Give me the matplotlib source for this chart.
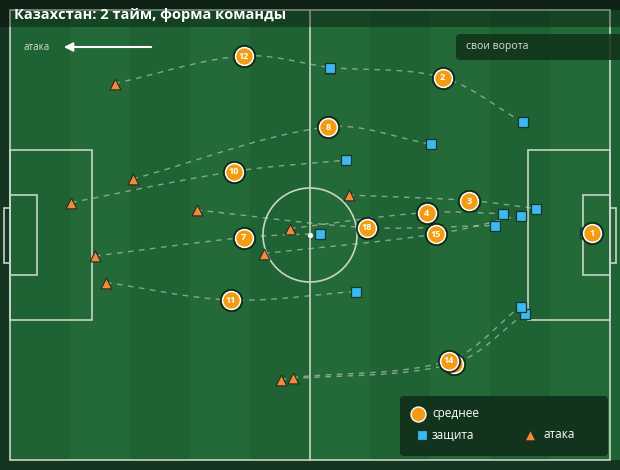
import numpy as np
import matplotlib.pyplot as plt
from matplotlib.patches import Rectangle, Circle, FancyBboxPatch

plt.rcParams['font.family'] = ['Open Sans', 'Noto Sans', 'DejaVu Sans']

# ---------- данные (поле 120 x 90, ось Y вниз) ----------
players = ['12', '2', '8', '10', '3', '4', '18', '15', '7', '11', '', '14', '1']
avg_x = [46.7, 86.5, 63.6, 44.7, 91.8, 83.3, 71.3, 85.2, 46.7, 44.2, 88.7, 87.8, 116.4]
avg_y = [9.2, 13.5, 23.4, 32.3, 38.1, 40.5, 43.5, 44.8, 45.5, 58.0, 70.7, 70.1, 44.6]
def_x = [64.0, 102.5, 84.1, 67.2, 105.1, 98.5, 97.0, 102.2, 62.0, 69.2, 102.9, 102.1, 115.0]
def_y = [11.5, 22.4, 26.8, 30.0, 39.7, 40.7, 43.1, 41.1, 44.7, 56.3, 60.8, 59.3, 44.5]
att_x = [20.9, 64.0, 24.5, 12.2, 67.7, 56.0, 37.3, 50.8, 17.0, 19.2, 54.2, 56.5, 115.3]
att_y = [14.7, 11.5, 33.8, 38.5, 37.0, 43.7, 40.0, 48.7, 49.2, 54.5, 73.9, 73.5, 44.6]

ORANGE = '#f39c12'
BLUE = '#3cb8f2'
TRI = '#f08a3c'
LINE = '#c9d3c9'


def px(x):
    return (x - 10) / 5.0


def hermite(p0, p1, m0, m1, n=40):
    s = np.linspace(0, 1, n)[:, None]
    h00 = 2 * s**3 - 3 * s**2 + 1
    h10 = s**3 - 2 * s**2 + s
    h01 = -2 * s**3 + 3 * s**2
    h11 = s**3 - s**2
    return h00 * p0 + h10 * m0 + h01 * p1 + h11 * m1


# ---------- фигура ----------
fig = plt.figure(figsize=(6.2, 4.7), dpi=100)
fig.patch.set_facecolor('#143520')
ax = fig.add_axes([0, 0, 1, 1])
ax.set_xlim(-2, 122)
ax.set_ylim(92, -2)
ax.axis('off')

# полосы газона
for i in range(11):
    c = '#1f6234' if i % 2 == 0 else '#236a38'
    ax.add_patch(Rectangle((i * 12, 0), 12, 90, color=c, lw=0, zorder=0))

# разметка
lw = 1.2
ax.add_patch(Rectangle((0, 0), 120, 90, fill=False, ec=LINE, lw=lw, zorder=1))
ax.plot([60, 60], [0, 90], color=LINE, lw=lw, zorder=1)
ax.add_patch(Circle((60, 45), 9.4, fill=False, ec=LINE, lw=lw, zorder=1))
ax.scatter([60], [45], s=14, c='white', lw=0, zorder=1.2)
for side in (0, 1):
    x0 = 0 if side == 0 else 120
    s = 1 if side == 0 else -1
    ax.add_patch(Rectangle((x0, 28), s * 16.4, 34, fill=False, ec=LINE, lw=lw, zorder=1))
    ax.add_patch(Rectangle((x0, 37), s * 5.4, 16, fill=False, ec=LINE, lw=lw, zorder=1))
    ax.add_patch(Rectangle((x0, 39.5), -s * 1.2, 11, fill=False, ec=LINE, lw=lw, zorder=1))

# шапка
ax.add_patch(Rectangle((-2, -2), 124, px(27) + 2, color='black', alpha=0.35, lw=0, zorder=1.5))
ax.text(px(14), px(15), 'Казахстан: 2 тайм, форма команды', color='white',
        fontsize=10.5, fontweight='bold', va='center', ha='left', zorder=10)

# направление атаки
ax.text(px(24), px(47), 'атака', color='#d6ded6', fontsize=7, va='center', ha='left', zorder=10)
ax.annotate('', xy=(px(61), px(47)), xytext=(px(154), px(47)),
            arrowprops=dict(arrowstyle='-|>', color='white', lw=1.5, mutation_scale=13),
            zorder=10)

# свои ворота
ax.add_patch(FancyBboxPatch((px(456), px(34)), px(640) - px(456), px(60) - px(34),
                            boxstyle='round,pad=0,rounding_size=0.8',
                            fc='#123219', ec='none', alpha=0.85, zorder=5))
ax.text(px(466), px(47), 'свои ворота', color='#d6ded6', fontsize=7.5,
        va='center', ha='left', zorder=10)

# ---------- линии игроков ----------
for i in range(len(players)):
    p0 = np.array([att_x[i], att_y[i]])
    p1 = np.array([avg_x[i], avg_y[i]])
    p2 = np.array([def_x[i], def_y[i]])
    d1 = np.hypot(*(p1 - p0))
    d2 = np.hypot(*(p2 - p1))
    if d1 + d2 < 1e-6:
        continue
    tang = (p2 - p0) / (d1 + d2)
    seg1 = hermite(p0, p1, p1 - p0, tang * d1)
    seg2 = hermite(p1, p2, tang * d2, p2 - p1)
    pts = np.vstack([seg1, seg2[1:]])
    ax.plot(pts[:, 0], pts[:, 1], color=LINE, lw=1.0, alpha=0.6, ls=(0, (4, 4)), zorder=2)

# атака / защита
ax.scatter(att_x, att_y, marker='^', s=60, c=TRI, edgecolors='#2a2a1a', linewidths=0.8, zorder=3)
ax.scatter(def_x, def_y, marker='s', s=42, c=BLUE, edgecolors='#17372a', linewidths=0.9, zorder=4)

# средние позиции
for i, num in enumerate(players):
    z = 5 + i * 0.1
    ax.scatter(avg_x[i], avg_y[i], s=280, c='#0c2614', alpha=0.9, lw=0, zorder=z)
    ax.scatter(avg_x[i], avg_y[i], s=165, c=ORANGE, edgecolors='white', linewidths=1.1, zorder=z + 0.01)
    if num:
        ax.text(avg_x[i], avg_y[i] + 0.1, num, color='white', fontsize=6.5, fontweight='bold',
                ha='center', va='center', zorder=z + 0.02)

# ---------- легенда ----------
ax.add_patch(FancyBboxPatch((px(400), px(396)), px(608) - px(400), px(456) - px(396),
                            boxstyle='round,pad=0,rounding_size=0.8',
                            fc='#11301b', ec='none', alpha=0.92, zorder=8))
ax.scatter([px(418)], [px(414)], s=115, c=ORANGE, edgecolors='white', linewidths=1.0, zorder=9)
ax.text(px(432), px(414), 'среднее', color='white', fontsize=8.5, va='center', ha='left', zorder=9)
ax.scatter([px(422)], [px(435)], marker='s', s=42, c=BLUE, edgecolors='#17372a', linewidths=0.9, zorder=9)
ax.text(px(432), px(435), 'защита', color='white', fontsize=8.5, va='center', ha='left', zorder=9)
ax.scatter([px(530)], [px(435)], marker='^', s=60, c=TRI, edgecolors='#2a2a1a', linewidths=0.8, zorder=9)
ax.text(px(544), px(435), 'атака', color='white', fontsize=8.5, va='center', ha='left', zorder=9)

fig.savefig('out.png', dpi=100, facecolor=fig.get_facecolor())
